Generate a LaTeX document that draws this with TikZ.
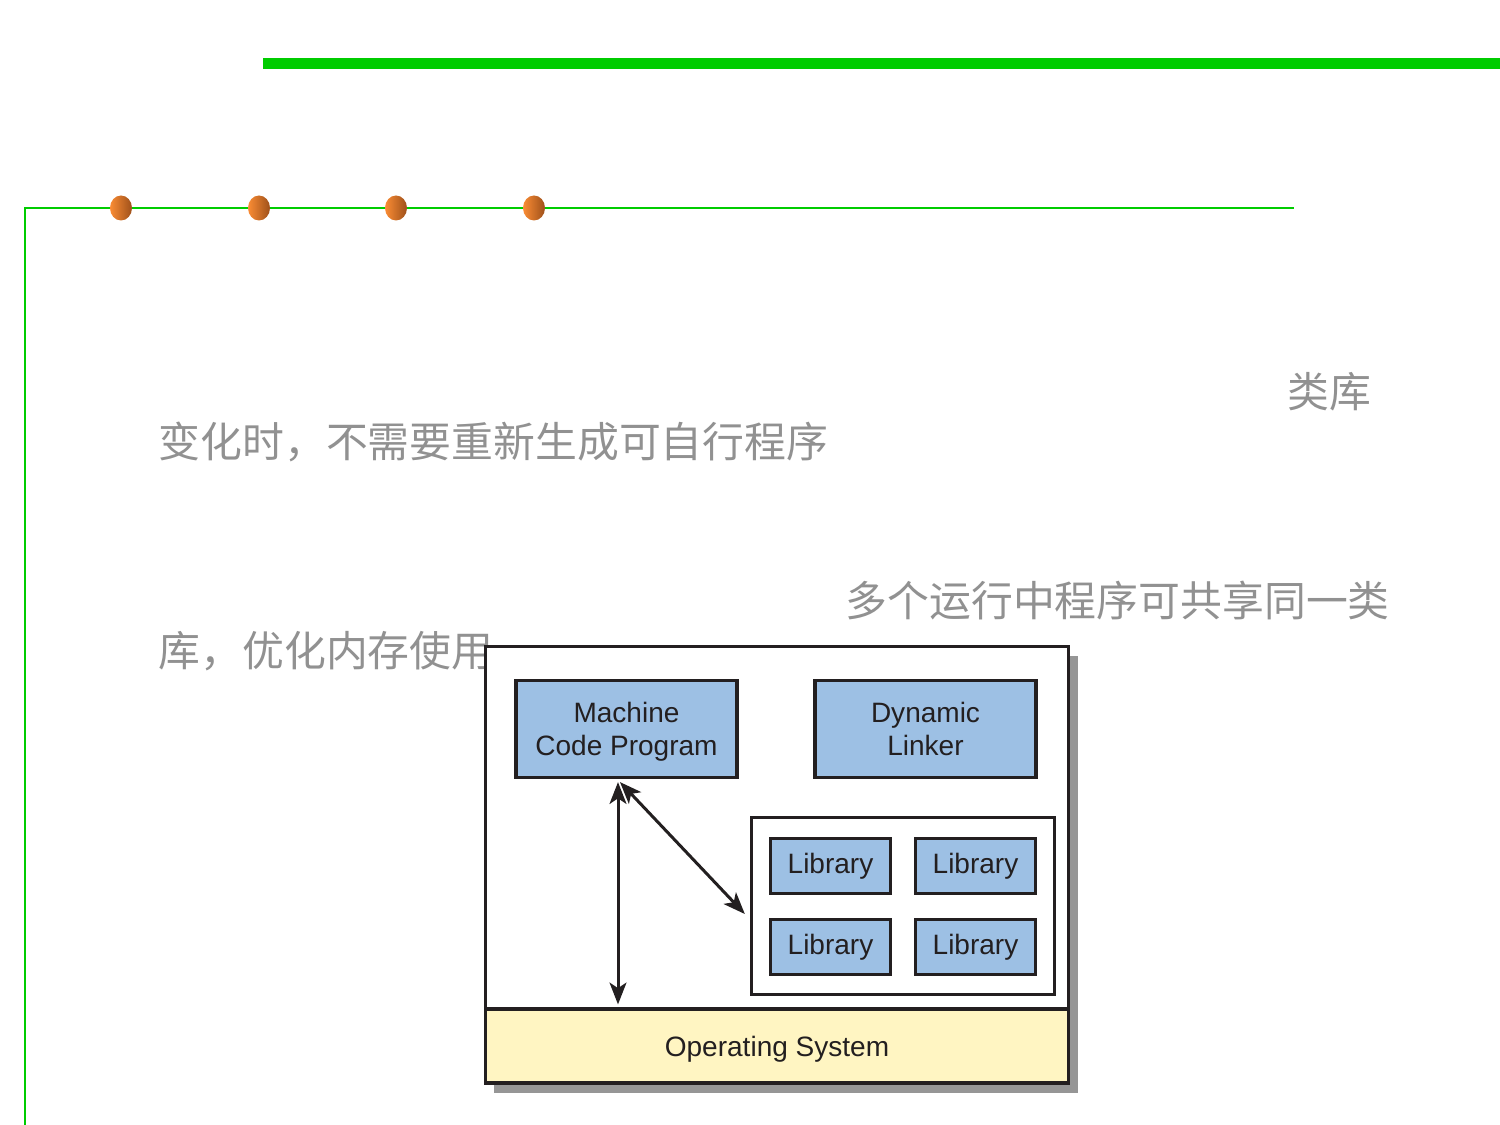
\documentclass[tikz,border=0pt]{standalone}
\usepackage{fontspec}
\setmainfont{Liberation Sans}
\newfontfamily\cjk{Noto Sans CJK SC}
\usetikzlibrary{arrows.meta,calc}

\definecolor{barGreen}{RGB}{0,204,0}
\definecolor{dotLight}{RGB}{250,140,52}
\definecolor{dotDark}{RGB}{158,80,26}
\definecolor{noteGray}{RGB}{145,145,145}
\definecolor{boxBlue}{RGB}{157,192,228}
\definecolor{osYellow}{RGB}{255,245,194}
\definecolor{ink}{RGB}{35,31,32}
\definecolor{shadowGray}{RGB}{150,150,150}

\newcommand{\nodepth}[1]{\raisebox{0pt}[\height][0pt]{#1}}

\begin{document}
\begin{tikzpicture}[x=0.01cm,y=-0.01cm,
  note/.style={text=noteGray, font=\cjk\fontsize{11.9}{14}\selectfont, inner sep=0pt, anchor=base west},
  frame/.style={draw=ink, line width=0.9pt, inner sep=0pt},
  bluebox/.style={frame, fill=boxBlue, text=ink, font=\fontsize{7.97}{9.4}\selectfont, align=center},
  progbox/.style={bluebox, minimum width=2.21cm, minimum height=0.97cm},
  libbox/.style={bluebox, minimum width=1.20cm, minimum height=0.55cm},
  dbl/.style={draw=ink, line width=0.85pt,
    {Stealth[length=6.2pt,width=4.8pt,inset=1.6pt]}-{Stealth[length=6.2pt,width=4.8pt,inset=1.6pt]}},
  dot/.style={left color=dotLight, right color=dotDark}
]
\useasboundingbox (0,0) rectangle (1500,1125);

% slide rules
\draw[barGreen, line width=0.11cm] (263,63.5) -- (1500,63.5);
\draw[barGreen, line width=0.02cm] (25,1125) -- (25,208) -- (1294,208);
\foreach \x in {121,259,396,534}
  \shade[dot] (\x,208) ellipse [x radius=0.11cm, y radius=0.125cm];

% notes
\node[note] (n1) at (1287,408) {类库};
\node[note] (n2) at (158,458) {变化时，不需要重新生成可自行程序};
\node[note] (n3) at (845,617) {多个运行中程序可共享同一类};
\node[note] (n4) at (158,667) {库，优化内存使用};

% process image: shadow, frame, operating system
\fill[shadowGray] (494,656) rectangle (1078,1093);
\node[frame, fill=white, minimum width=5.82cm, minimum height=4.36cm] (mem) at (777,865) {};
\node[frame, fill=osYellow, text=ink, font=\fontsize{7.97}{9.4}\selectfont,
      minimum width=5.82cm, minimum height=0.74cm] (os) at (777,1046) {\nodepth{Operating System}};

% programs
\node[progbox] (mcp) at (626.5,729) {Machine\\\nodepth{Code Program}};
\node[progbox] (dl) at (925.5,729) {Dynamic\\Linker};

% shared libraries
\node[frame, fill=white, minimum width=3.03cm, minimum height=1.77cm] (libs) at (903,906) {};
\node[libbox] (l1) at (830.5,866) {Library};
\node[libbox] (l2) at (975.5,866) {Library};
\node[libbox] (l3) at (830.5,947) {Library};
\node[libbox] (l4) at (975.5,947) {Library};

% connectors
\coordinate (p1) at ($(mcp.south)+(-8.5,3)$);
\coordinate (p2) at ($(mcp.south)+(-6.5,3)$);
\draw[dbl] (p1) -- ($(p1 |- os.north)+(0,-3)$);
\draw[dbl] (p2) -- ($(libs.west)+(-5,8)$);
\end{tikzpicture}
\end{document}
